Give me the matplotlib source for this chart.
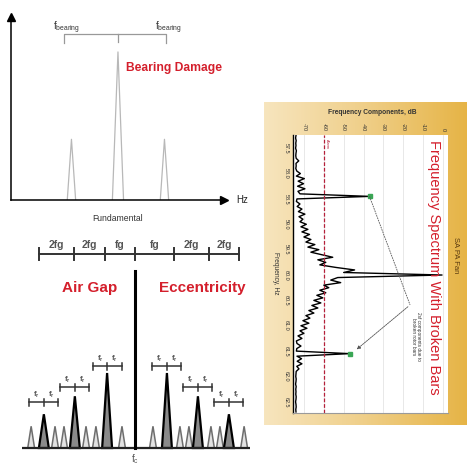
import matplotlib
matplotlib.use("Agg")
import matplotlib.pyplot as plt
import numpy as np
from matplotlib.colors import to_rgb

# -- bearing damage sketch (offsets in multiples of f_bearing) --
bearing_offsets = [-1.0, 0.0, 1.0]
bearing_amps = [0.41, 1.0, 0.41]
bearing_bracket = [-1.16, 0.0, 1.03]

# -- air gap eccentricity sketch (offsets around fc) --
ecc_peaks = [-2.94, -1.94, -0.90, 1.03, 2.03, 3.03]
ecc_amps = [0.45, 0.69, 1.0, 1.0, 0.69, 0.45]
ecc_small = [-3.35, -2.58, -2.29, -1.58, -1.26, -0.42,
             0.58, 1.45, 1.74, 2.45, 2.74, 3.52]
ecc_small_amp = 0.29
fr_bracket_y = [0.61, 0.81, 1.09, 1.09, 0.81, 0.61]
scale_ticks = [-3.10, -1.97, -0.97, 0.0, 1.26, 2.39, 3.35]
scale_labels = ["2fg", "2fg", "fg", "fg", "2fg", "2fg"]

# -- broken rotor bar spectrum --
freq_hz = np.linspace(57.25, 62.70, 110)
level_db = [
    -74.0, -74.2, -73.9, -74.1, -74.0, -74.2, -73.8, -74.0, -74.1, -73.9,
    -72.6, -74.0, -73.9, -74.1, -73.6, -71.8, -73.8, -69.8, -72.9, -70.2,
    -73.2, -69.5, -73.0, -72.0, -37.0, -73.5, -73.8, -72.0, -73.4, -71.0,
    -72.8, -69.5, -72.5, -70.5, -72.0, -68.8, -71.5, -68.0, -71.0, -67.2,
    -70.0, -66.5, -69.0, -64.5, -68.0, -62.5, -66.5, -61.0, -55.5, -63.0,
    -59.0, -62.0, -54.0, -44.5, -50.0, -0.5, -53.0, -56.5, -51.5, -60.0,
    -57.5, -62.0, -59.0, -63.5, -60.5, -65.0, -61.5, -66.0, -63.0, -67.5,
    -65.0, -69.0, -67.0, -70.5, -67.5, -71.5, -68.5, -72.0, -70.0, -73.0,
    -71.0, -73.8, -73.5, -71.5, -73.6, -73.8, -47.0, -73.5, -71.2, -73.4,
    -71.0, -73.6, -72.5, -73.9, -74.0, -74.1, -73.9, -74.0, -74.2, -73.9,
    -74.1, -74.0, -74.1, -73.9, -74.0, -74.2, -74.0, -73.9, -74.1, -74.0,
]
sideband_hz = [58.45, 61.55]
sideband_db = [-37.0, -47.0]
db_ticks = [-70, -60, -50, -40, -30, -20, -10, 0]
hz_ticks = [57.5, 58.0, 58.5, 59.0, 59.5, 60.0, 60.5, 61.0, 61.5, 62.0, 62.5]
alarm_db = -60

RED = "#d41f2c"
W = H = 474
plt.rcParams["font.family"] = ["Liberation Sans", "DejaVu Sans"]

fig = plt.figure(figsize=(4.74, 4.74), dpi=100)


def px_axes(x0, y0, x1, y1, **kw):
    return fig.add_axes([x0 / W, 1 - y1 / H, (x1 - x0) / W, (y1 - y0) / H], **kw)


# -- top left: bearing damage ------------------------------
axA = px_axes(11, 17, 224, 200)
axA.patch.set_visible(False)
axA.set_xlim(-2.30, 2.28)
axA.set_ylim(0, 1.236)
for s in ["top", "right"]:
    axA.spines[s].set_visible(False)
for s in ["left", "bottom"]:
    axA.spines[s].set_linewidth(1.1)
axA.set_xticks([])
axA.set_yticks([])
axA.plot(1, 0, ">k", ms=6, transform=axA.transAxes, clip_on=False)
axA.plot(0, 1, "^k", ms=6, transform=axA.transAxes, clip_on=False)
for f, a in zip(bearing_offsets, bearing_amps):
    hw = 0.12 if a == max(bearing_amps) else 0.09
    axA.plot([f - hw, f, f + hw], [0, a, 0], color="#b8b8b8", lw=0.9)
bl, bc, br = bearing_bracket
axA.plot([bl, bl, br, br], [1.061, 1.122, 1.122, 1.061], color="#999999", lw=0.9)
axA.plot([bc, bc], [1.122, 1.07], color="#999999", lw=0.9)
for x in [-1.10, 1.08]:
    axA.text(x, 1.165, r"$\mathregular{f_{bearing}}$", fontsize=7, color="#333333",
             ha="center", va="center")
axA.text(1.20, 0.89, "Bearing Damage", color=RED, fontsize=8.7, weight="bold",
         family=["Liberation Sans Narrow", "Liberation Sans"], ha="center", va="center")
axA.text(0, -0.122, "Fundamental", fontsize=6.2, color="#333333",
         family=["Liberation Sans Narrow", "Liberation Sans"], ha="center", va="center")
axA.text(2.55, 0.0, "Hz", fontsize=7, color="#222222", ha="left", va="center")

# -- bottom left: air gap eccentricity ---------------------
axB = px_axes(22, 235, 250, 470)
axB.set_xlim(-3.645, 3.71)
axB.set_ylim(-0.293, 2.84)
axB.axis("off")
for p in ecc_small:
    axB.fill([p - 0.11, p, p + 0.11], [0, ecc_small_amp, 0], facecolor="#e2e2e2",
             edgecolor="#6e6e6e", lw=1.1)
for p, a in zip(ecc_peaks, ecc_amps):
    axB.fill([p - 0.16, p, p + 0.16], [0, a, 0], facecolor="#8a8a8a",
             edgecolor="black", lw=1.6)
axB.axhline(0, color="#222222", lw=1.6)
axB.plot([0, 0], [0, 2.36], color="black", lw=2.2)
axB.text(0, -0.15, r"$\mathregular{f_c}$", fontsize=7, color="#555555",
         ha="center", va="center")

sy = 2.587
axB.plot([scale_ticks[0], scale_ticks[-1]], [sy, sy], color="#333333", lw=1.4)
for t in scale_ticks:
    axB.plot([t, t], [sy - 0.08, sy + 0.08], color="#333333", lw=1.4)
for t0, t1, lab in zip(scale_ticks[:-1], scale_ticks[1:], scale_labels):
    axB.text((t0 + t1) / 2, 2.71, lab, fontsize=7.5, color="#555555", weight="bold",
             ha="center", va="center")

for p, yb in zip(ecc_peaks, fr_bracket_y):
    axB.plot([p - 0.468, p + 0.468], [yb, yb], color="#333333", lw=1.1)
    for t in [p - 0.468, p, p + 0.468]:
        axB.plot([t, t], [yb - 0.045, yb + 0.045], color="#333333", lw=1.1)
    for dx in [-0.23, 0.23]:
        axB.text(p + dx, yb + 0.1, r"$\mathregular{f_r}$", fontsize=5.5, color="#555555",
                 weight="bold", ha="center", va="center")

axB.text(-1.45, 2.133, "Air Gap", color=RED, fontsize=11, weight="bold",
         ha="center", va="center")
axB.text(2.16, 2.133, "Eccentricity", color=RED, fontsize=11, weight="bold",
         ha="center", va="center")

# -- right: rotated spectrum on a gold card ----------------
axF = px_axes(264, 102, 467, 425)
axF.axis("off")
stops = [(0.0, "#f7e5be"), (0.45, "#f0d18e"), (1.0, "#e6b446")]
xs = np.linspace(0, 1, 200)
grad = np.stack([np.interp(xs, [s[0] for s in stops], [to_rgb(s[1])[i] for s in stops])
                 for i in range(3)], axis=-1)
axF.imshow(grad[None, :, :], aspect="auto", extent=[0, 1, 0, 1])
axF.set_xlim(0, 1)
axF.set_ylim(0, 1)

axR = px_axes(293, 135, 448, 413)
axR.set_facecolor("white")
axR.set_xlim(-75.5, 2.5)
axR.set_ylim(62.72, 57.24)
axR.plot(level_db, freq_hz, color="black", lw=1.0)
axR.plot(sideband_db, sideband_hz, "s", color="#3aa655", ms=2.2)
axR.axvline(alarm_db, color="#b5203a", lw=0.9, ls=(0, (3, 1.5)))
axR.text(alarm_db + 1.8, 57.32, "Alarm", color="#b5203a", fontsize=2.8,
         rotation=270, ha="center", va="top")
axR.grid(axis="x", color="#e4e4e4", lw=0.6)
axR.set_axisbelow(True)
axR.xaxis.tick_top()
axR.set_xticks(db_ticks)
axR.set_xticklabels([str(t) for t in db_ticks], rotation=270, fontsize=4, color="#333333")
axR.set_yticks(hz_ticks)
axR.set_yticklabels([f"{t:.1f}" for t in hz_ticks], rotation=270, fontsize=4,
                    color="#333333", va="center")
axR.tick_params(length=0, pad=3)
axR.spines["top"].set_visible(False)
axR.spines["right"].set_visible(False)
axR.spines["left"].set_linewidth(1.0)
axR.spines["bottom"].set_color("#9a9a9a")

axR.text(-4.5, 59.85, "Frequency Spectrum With Broken Bars", color=RED, fontsize=10.5,
         rotation=270, ha="center", va="center")
axR.text(-13.6, 60.73, "2sf components due to\nbroken rotor bars", fontsize=3.4,
         color="#333333", rotation=270, ha="center", va="top", linespacing=1.2)
axR.plot([sideband_db[0], -16.6], [sideband_hz[0], 60.59], color="#555555", lw=0.6,
         ls=(0, (2, 1)))
axR.annotate("", xy=(-44.5, 61.5), xytext=(-16.6, 60.59),
             arrowprops=dict(arrowstyle="-|>", color="#555555", lw=0.6,
                             linestyle=(0, (2, 1)), mutation_scale=5))

fig.text(372 / W, 1 - 112 / H, "Frequency Components, dB", fontsize=4.8, color="#333333",
         ha="center", va="center", weight="bold")
fig.text(275 / W, 1 - 273 / H, "Frequency, Hz", fontsize=4.8, color="#333333",
         ha="center", va="center", rotation=270)
fig.text(455 / W, 1 - 255 / H, "SA PA Fan", fontsize=5.5, color="#5a3a10",
         ha="center", va="center", rotation=270)

fig.savefig("out.png", dpi=100)
